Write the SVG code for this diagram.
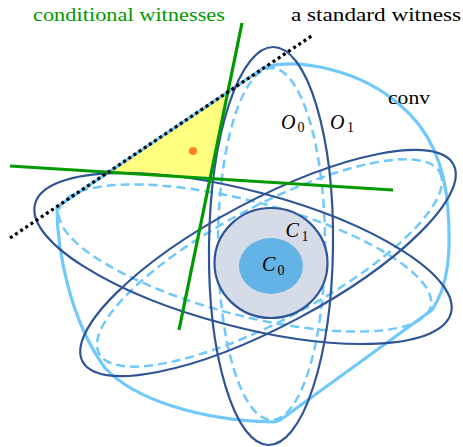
<svg xmlns="http://www.w3.org/2000/svg" width="463" height="447" viewBox="0 0 463 447">
<style>
.dark{fill:none;stroke:#2f5597;stroke-width:2.2}
.dash{fill:none;stroke:#70c8fb;stroke-width:2.5;stroke-dasharray:9,5}
.conv{fill:none;stroke:#70c8fb;stroke-width:3.2;stroke-linejoin:round}
.green{stroke:#009a00;stroke-width:3.2;fill:none}
.lbl{font-family:"Liberation Serif","Times New Roman",serif;font-size:18px;fill:#000}
.math{font-family:"Liberation Serif","Times New Roman",serif;font-style:italic;font-size:20px;fill:#000}
.sub{font-family:"Liberation Serif","Times New Roman",serif;font-size:14px;fill:#000}
</style>
<g id="witness-region">
<polygon points="108.3,172.2 210.1,178.5 227.8,92" fill="#ffff80"/>
<circle cx="193" cy="151" r="4" fill="#ff7f1a"/>
</g>
<g id="conv">
<path class="conv" d="M 57,207 L 265,67 C 300,58 360,70 400,105 C 430,130 445,165 448,210 C 451,250 449,285 432,310 L 283,418 C 279,421 276,422 272,422 C 200,420 135,400 105,368 C 70,320 57,250 57,207 Z"/>
</g>
<g id="O0">
<ellipse class="dash" cx="271.5" cy="244" rx="53.5" ry="176"/>
<ellipse class="dash" transform="translate(245,258) rotate(14.7)" rx="192" ry="57"/>
<ellipse class="dash" transform="translate(269.5,263) rotate(-28)" rx="193" ry="57"/>
</g>
<g id="O1">
<ellipse class="dark" transform="translate(271,246) rotate(0.7)" rx="62" ry="199"/>
<ellipse class="dark" transform="translate(243,258.5) rotate(14.7)" rx="215" ry="68"/>
<ellipse class="dark" transform="translate(268,263) rotate(-28)" rx="210" ry="63"/>
</g>
<g id="C1">
<ellipse cx="271" cy="263" rx="56.5" ry="55" fill="#d5dce8" stroke="#2f5597" stroke-width="2.2"/>
</g>
<g id="C0">
<ellipse cx="271" cy="266" rx="32" ry="28" fill="#63b3e6"/>
</g>
<g id="connectors">
<line class="green" x1="10" y1="166" x2="393" y2="190"/>
<line class="green" x1="242" y1="23" x2="179" y2="330"/>
<line x1="10" y1="238" x2="313" y2="35" stroke="#000" stroke-width="3.2" stroke-dasharray="3,3.2"/>
</g>
<g id="labels">
<text x="33" y="21" class="lbl" style="fill:#009a00" textLength="192" lengthAdjust="spacingAndGlyphs">conditional witnesses</text>
<text x="291" y="21" class="lbl" textLength="170" lengthAdjust="spacingAndGlyphs">a standard witness</text>
<text x="388" y="104" class="lbl" textLength="42" lengthAdjust="spacingAndGlyphs">conv</text>
<text x="281" y="128.5" class="math">O</text><text x="297.5" y="132" class="sub">0</text>
<text x="330" y="128.5" class="math">O</text><text x="347" y="132" class="sub">1</text>
<text x="285.5" y="237" class="math">C</text><text x="301.5" y="241" class="sub">1</text>
<text x="262" y="271" class="math">C</text><text x="277.5" y="274.5" class="sub">0</text>
</g>
</svg>
